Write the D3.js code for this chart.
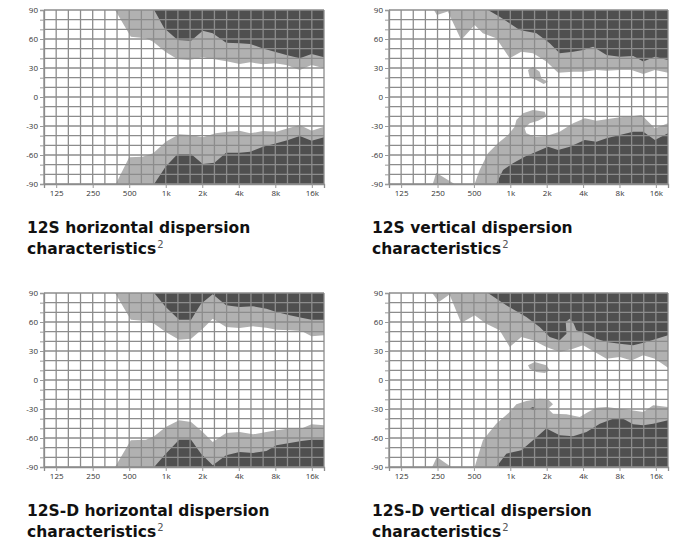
<!DOCTYPE html>
<html>
<head>
<meta charset="utf-8">
<script src="https://cdn.jsdelivr.net/npm/d3@7"></script>
<style>
  body { margin: 0; background: #fff; }
  svg { display: block; }
  .axis text { font-family: "Open Sans", sans-serif; font-size: 8px; fill: #333; }
  .title { font-family: "DejaVu Sans", sans-serif; font-weight: bold; font-size: 15.5px; fill: #111; }
</style>
</head>
<body>
<svg id="chart" width="680" height="545"></svg>
<script>
// third-octave bands, 100 Hz .. 20 kHz
const bands = ["100", "125", "160", "200", "250", "315", "400", "500", "630", "800", "1k", "1.25k",
    "1.6k", "2k", "2.5k", "3.15k", "4k", "5k", "6.3k", "8k", "10k", "12.5k", "16k", "20k"];
const freqLabels = ["125", "250", "500", "1k", "2k", "4k", "8k", "16k"];
const angleTicks = d3.range(-90, 91, 10);

// contour edges as [band position, angle in degrees]
// --- 12S horizontal
const hLightTop = [[5.84, 90], [7.13, 62.4], [8.37, 60.7], [8.97, 57.2], [9.96, 46.9], [10.98, 39], [11.94, 38.3],
    [13.04, 41], [14, 39], [15.1, 36.6], [16.07, 34.1], [16.94, 35.9], [17.99, 33.8], [18.95, 34.8],
    [19.91, 33.1], [21.01, 27.9], [21.98, 33.1], [23, 29.7]];
const hDarkTop = [[9.05, 90], [9.88, 71], [10.98, 59], [12.08, 58.3], [13.04, 68.6], [13.86, 65.9], [14.96, 56.2],
    [16.07, 55.5], [16.94, 54.8], [17.99, 50.3], [18.95, 46.9], [19.91, 43.4], [21.01, 40], [21.98, 44.5], [23, 41]];
const hLightBottom = [[5.9, -90], [7, -62.4], [8.1, -61.7], [8.97, -58.3], [10, -46.2], [11.1, -38.6], [12.08, -39.3],
    [13.04, -41.7], [14.1, -37.6], [15.1, -35.9], [16.07, -34.8], [16.94, -37.6], [17.99, -35.2], [19.09, -35.9],
    [20.05, -32.4], [21.01, -29], [21.98, -34.8], [23, -30.7]];
const hDarkBottom = [[9.05, -90], [10, -72], [10.98, -59], [12.08, -59], [13.04, -69.3], [14, -67.9], [14.96, -57.6],
    [16.07, -57.6], [16.94, -56.6], [17.99, -51.4], [19.09, -47.9], [20.05, -44.5], [21.01, -40.3], [21.98, -45.2], [23, -41.7]];

// --- 12S vertical
const vLightTop = [[3.7, 90], [3.95, 84.8], [4.85, 88.5], [5.95, 59], [7.06, 74.5], [7.74, 65.9], [8.84, 60.7],
    [9.95, 40], [10.9, 46.9], [11.87, 45.2], [12.97, 36.6], [13.94, 25.2], [15.18, 26.2], [16, 26.2], [17.1, 27.9],
    [17.93, 27.2], [19.03, 27.9], [19.99, 27.9], [20.96, 23.8], [21.92, 27.9], [23, 25.2]];
const vDarkTop = [[8.16, 90], [9.12, 83.1], [10.77, 69.3], [12.15, 65.9], [13.25, 55.5], [14.07, 45.2], [15.18, 46.9],
    [16, 48.6], [16.83, 52.1], [17.93, 43.4], [19.03, 41.7], [20.13, 42.4], [20.96, 36.6], [21.92, 41.7], [23, 38.3]];
const vIsland = [[11.46, 27.9], [11.87, 31.4], [12.42, 26.2], [12.56, 19.3], [13.11, 15.9], [12.75, 13.4],
    [12.15, 17.6], [11.6, 20.3]];
const vLightBottom = [[7.06, -90], [7.47, -75.5], [8.16, -58.3], [8.98, -47.9], [9.81, -39.3], [10.36, -30.7],
    [10.5, -23.8], [11.05, -16.9], [11.87, -13.4], [12.84, -15.2], [12.97, -20.3], [12.29, -24.5], [11.6, -27.2],
    [11.18, -32.4], [11.32, -37.6], [12.01, -41], [12.97, -40.3], [14.07, -35.9], [15.18, -27.2], [16.14, -22.1],
    [17.1, -24.5], [17.93, -23.1], [19.03, -21], [19.86, -20.3], [20.82, -18.6], [21.92, -32.4], [23, -27.2]];
const vLowSpike = [[3.61, -90], [3.89, -78.3], [5.4, -90]];
const vDarkBottom = [[8.84, -90], [9.4, -75.5], [10.22, -68.6], [11.18, -61.7], [12.15, -56.6], [13.11, -51.4],
    [13.94, -54.8], [14.9, -51.4], [16.14, -44.5], [17.1, -46.2], [17.93, -42.8], [19.03, -39.3], [20.13, -35.9],
    [20.96, -35.9], [21.92, -44.5], [23, -37.6]];

// --- 12S-D horizontal
const dhLightTop = [[5.84, 90], [7.13, 62.4], [8.37, 61], [9.05, 58.3], [10, 49.7], [11.1, 41.7], [12.08, 42.8],
    [13.04, 53.1], [13.86, 63.4], [14.96, 54.8], [16.07, 53.8], [17.17, 55.5], [18.27, 54.1], [19.09, 52.1],
    [20.19, 51.4], [21.15, 50.7], [21.98, 45.2], [23, 46.2]];
const dhDarkTop = [[9.05, 90], [10, 75.5], [11.1, 62.4], [12.08, 62.4], [12.9, 79], [13.86, 88.6], [14.96, 77.2],
    [16.07, 75.5], [17.17, 76.2], [18.27, 73.8], [19.09, 70.3], [20.19, 66.9], [21.15, 64.5], [21.98, 62.4], [23, 62.4]];
const dhLightBottom = [[5.84, -90], [7.13, -62.4], [8.37, -61.7], [9.05, -58.3], [10, -48.6], [11.1, -41.7],
    [12.08, -43.4], [13.04, -53.8], [13.86, -64.1], [14.96, -54.8], [16.07, -53.8], [17.17, -56.2], [18.27, -53.8],
    [19.09, -52.1], [20.19, -50.3], [21.15, -50.3], [21.98, -45.9], [23, -46.9]];
const dhDarkBottom = [[9.05, -90], [10, -76.2], [11.1, -61.7], [12.08, -61.7], [12.9, -76.2], [13.86, -88.3],
    [14.96, -77.9], [16.07, -74.5], [17.17, -75.5], [18.27, -73.4], [19.09, -67.6], [20.19, -65.2], [21.15, -63.1],
    [21.98, -61.7], [23, -61.7]];

// --- 12S-D vertical
const dvLightTop = [[3.56, 90], [4.11, 80.7], [4.99, 88.5], [5.95, 59], [7.06, 66.9], [8.02, 58.3], [9.12, 51.4],
    [9.95, 34.1], [10.91, 44.5], [11.87, 41], [12.97, 34.1], [14.07, 29], [15.18, 32.4], [16, 35.9], [16.96, 29],
    [17.93, 22.1], [19.03, 23.8], [19.99, 20.3], [20.96, 25.5], [21.92, 22.1], [23, 12.8]];
const dvDarkTop = [[8.16, 90], [9.67, 77.2], [11.32, 65.2], [12.42, 54.8], [13.25, 44.5], [14.07, 41], [14.63, 47.9],
    [14.57, 60], [14.9, 63.4], [15.23, 58.3], [15.45, 51.4], [16.28, 47.9], [17.1, 42.8], [17.93, 39.3],
    [19.03, 37.6], [20.13, 35.9], [21.23, 39.3], [22.06, 42.8], [23, 46.2]];
const dvIsland = [[11.46, 15.2], [12.01, 18.6], [12.97, 15.2], [13.25, 10], [12.84, 7.2], [12.15, 8.3], [11.6, 11.7]];
const dvLightBottom = [[7.06, -90], [7.74, -62.4], [8.84, -45.2], [9.95, -33.1], [10.5, -25.2], [11.32, -21.7],
    [12.42, -19.3], [13.11, -20], [13.52, -25.2], [13.11, -29.7], [13.52, -34.8], [14.63, -35.5], [15.73, -38.3],
    [16.42, -33.1], [17.1, -28.6], [17.93, -27.9], [19.03, -29.7], [19.99, -31.4], [20.96, -33.1], [21.78, -26.2],
    [23, -27.9]];
const dvLowSpike = [[3.56, -90], [3.95, -79.7], [5.13, -90]];
const dvSpeck = [[11.6, -29.5], [11.87, -28], [12.15, -30.5], [11.87, -31]];
const dvDarkBottom = [[8.84, -90], [9.67, -76.2], [10.91, -72.8], [11.87, -62.4], [12.97, -50.3], [14.07, -57.2],
    [15.18, -58.3], [16.28, -53.8], [17.38, -45.2], [18.48, -40], [19.3, -40], [20.13, -45.9], [20.96, -46.9],
    [21.78, -45.2], [23, -41.7]];

const titles = [
    ["12S horizontal dispersion", "characteristics"],
    ["12S vertical dispersion", "characteristics"],
    ["12S-D horizontal dispersion", "characteristics"],
    ["12S-D vertical dispersion", "characteristics"]
];

const LIGHT = "#b1b1b1", DARK = "#4f4f4f", GRID = "#8c8c8c";
const last = bands.length - 1;
const topShape = e => [[e[0][0], 90], ...e, [last, 90]];
const bottomShape = e => [[e[0][0], -90], ...e, [last, -90]];

const panels = [
    { left: 44, top: 10, w: 280, h: 174, tx: 27, ty: 233, shapes: [
        { pts: topShape(hLightTop), fill: LIGHT }, { pts: bottomShape(hLightBottom), fill: LIGHT },
        { pts: topShape(hDarkTop), fill: DARK }, { pts: bottomShape(hDarkBottom), fill: DARK }] },
    { left: 389, top: 10, w: 279, h: 174, tx: 372, ty: 233, shapes: [
        { pts: topShape(vLightTop), fill: LIGHT }, { pts: bottomShape(vLightBottom), fill: LIGHT },
        { pts: vLowSpike, fill: LIGHT }, { pts: vIsland, fill: LIGHT },
        { pts: topShape(vDarkTop), fill: DARK }, { pts: bottomShape(vDarkBottom), fill: DARK }] },
    { left: 44, top: 293, w: 280, h: 174, tx: 27, ty: 516, shapes: [
        { pts: topShape(dhLightTop), fill: LIGHT }, { pts: bottomShape(dhLightBottom), fill: LIGHT },
        { pts: topShape(dhDarkTop), fill: DARK }, { pts: bottomShape(dhDarkBottom), fill: DARK }] },
    { left: 389, top: 293, w: 279, h: 174, tx: 372, ty: 516, shapes: [
        { pts: topShape(dvLightTop), fill: LIGHT }, { pts: bottomShape(dvLightBottom), fill: LIGHT },
        { pts: dvLowSpike, fill: LIGHT }, { pts: dvIsland, fill: LIGHT }, { pts: dvSpeck, fill: DARK },
        { pts: topShape(dvDarkTop), fill: DARK }, { pts: bottomShape(dvDarkBottom), fill: DARK }] }
];

const svg = d3.select("#chart");

panels.forEach((p, k) => {
    const x = d3.scaleLinear().domain([0, last]).range([p.left, p.left + p.w]);
    const y = d3.scaleLinear().domain([-90, 90]).range([p.top + p.h, p.top]);
    const line = d3.line().x(d => x(d[0])).y(d => y(d[1]));
    const g = svg.append("g");

    g.append("clipPath").attr("id", "clip" + k)
        .append("rect").attr("x", p.left).attr("y", p.top).attr("width", p.w).attr("height", p.h);

    g.append("g").attr("clip-path", `url(#clip${k})`)
        .selectAll("path").data(p.shapes).join("path")
        .attr("d", d => line(d.pts) + "Z")
        .attr("fill", d => d.fill);

    // grid on top of the contours
    g.append("g").selectAll("line").data(d3.range(bands.length)).join("line")
        .attr("x1", d => x(d)).attr("x2", d => x(d))
        .attr("y1", p.top).attr("y2", p.top + p.h)
        .attr("stroke", GRID).attr("stroke-width", 1.3);
    g.append("g").selectAll("line").data(angleTicks).join("line")
        .attr("x1", p.left).attr("x2", p.left + p.w)
        .attr("y1", d => y(d)).attr("y2", d => y(d))
        .attr("stroke", GRID).attr("stroke-width", 1.3);

    const yAxis = g.append("g").attr("class", "axis")
        .attr("transform", `translate(${p.left},0)`)
        .call(d3.axisLeft(y).tickValues(angleTicks).tickSize(4).tickPadding(2)
            .tickFormat(d => d % 30 === 0 ? String(d) : ""));
    const xAxis = g.append("g").attr("class", "axis")
        .attr("transform", `translate(0,${p.top + p.h})`)
        .call(d3.axisBottom(x).tickValues(freqLabels.map(f => bands.indexOf(f)))
            .tickSize(4).tickPadding(2).tickFormat(i => bands[i]));
    [yAxis, xAxis].forEach(a => {
        a.select(".domain").attr("stroke", GRID).attr("stroke-width", 1.3);
        a.selectAll(".tick line").attr("stroke", "#999");
    });

    const t = svg.append("text").attr("class", "title").attr("x", p.tx).attr("y", p.ty);
    t.text(titles[k][0]);
    const t2 = svg.append("text").attr("class", "title").attr("x", p.tx).attr("y", p.ty + 21);
    t2.append("tspan").text(titles[k][1]);
    t2.append("tspan").attr("dy", -6).attr("dx", 1)
        .style("font-size", "10px").style("font-weight", "normal").style("fill", "#555").text("2");
});
</script>
</body>
</html>
